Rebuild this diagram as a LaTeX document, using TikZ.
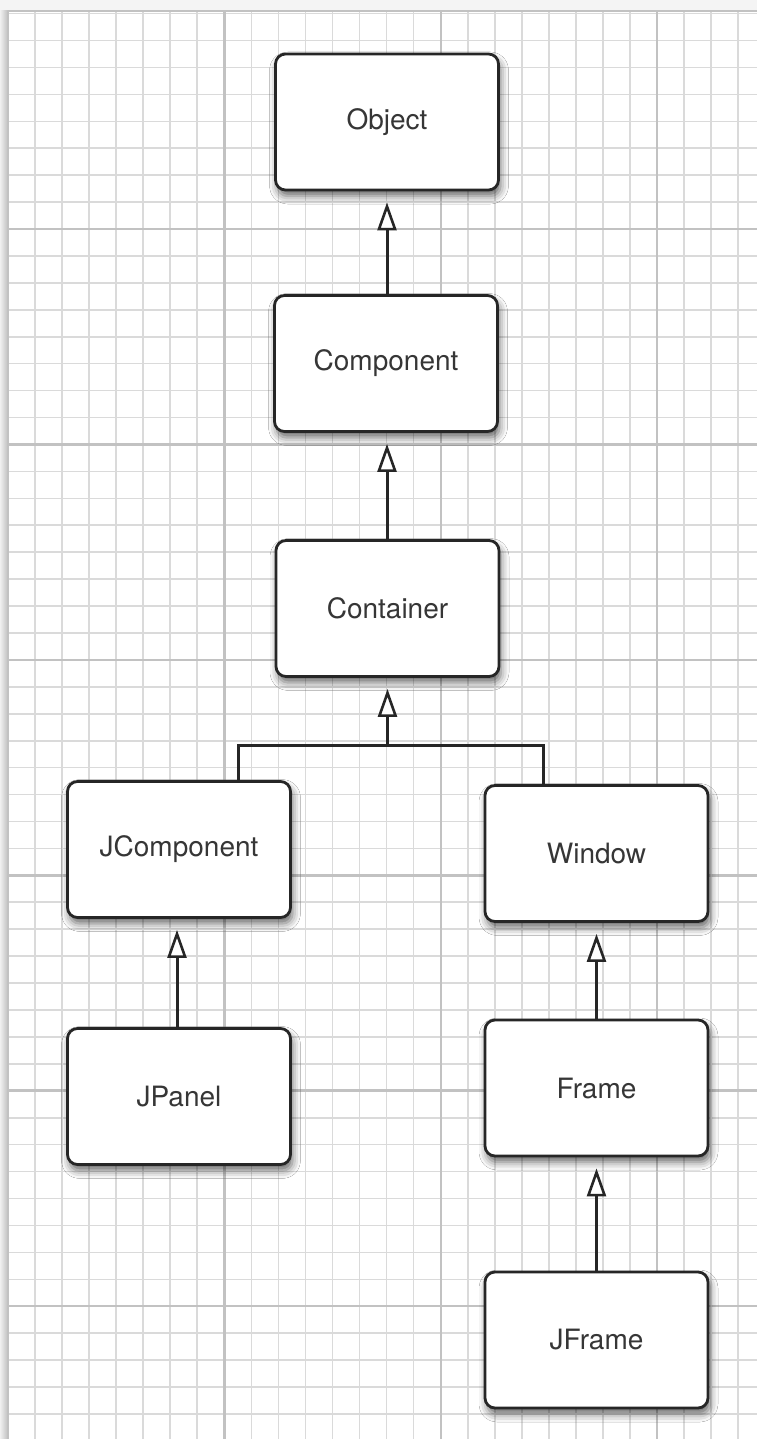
\documentclass[tikz,border=0pt]{standalone}
\usepackage{fontspec}
\newfontfamily\hv{TeX Gyre Heros}
\usetikzlibrary{arrows.meta,shadows.blur}
\definecolor{ink}{HTML}{262626}
\definecolor{txt}{HTML}{363636}
\definecolor{gridminor}{HTML}{DADADA}
\definecolor{gridmajor}{HTML}{C2C2C2}
\tikzset{
  cls/.style={draw=ink, line width=2.8pt, fill=white, rounded corners=10pt,
    minimum width=223pt, minimum height=136pt, inner sep=0pt,
    font=\hv\fontsize{28}{32}\selectfont, text=txt,
    blur shadow={shadow xshift=2pt, shadow yshift=-6pt, shadow blur radius=8pt, shadow opacity=60}},
  link/.style={draw=ink, line width=3pt},
  inh/.style={link, -{Triangle[open, fill=white, length=28pt, width=19pt, line width=2.6pt]}, shorten >=11pt}
}
\begin{document}
\begin{tikzpicture}[x=1pt,y=-1pt]
\useasboundingbox (0,0) rectangle (757,1439);
% page background and edge shadow
\fill[gray!9] (0,0) rectangle (757,1439);
\shade[left color=gray!12, right color=gray!50] (0,11) rectangle (8,1439);
\fill[white] (8,11) rectangle (757,1439);
% grid
\foreach \k in {0,...,27} {
  \pgfmathsetmacro{\gx}{7.9+\k*27.05}
  \draw[gridminor, line width=1.6pt] (\gx,11) -- (\gx,1439);
}
\foreach \k in {0,...,53} {
  \pgfmathsetmacro{\gy}{13.6+\k*26.93}
  \draw[gridminor, line width=1.6pt] (8,\gy) -- (757,\gy);
}
\foreach \gx in {224.3,440.7,657.1} \draw[gridmajor, line width=2.4pt] (\gx,11) -- (\gx,1439);
\foreach \gy in {229,444.4,659.9,875.3,1090.6,1306} \draw[gridmajor, line width=2.4pt] (8,\gy) -- (757,\gy);
\draw[gridmajor, line width=1.6pt] (8,11) -- (757,11);
\draw[gridmajor, line width=1.6pt] (8,11) -- (8,1439);
% classes
\node[cls] (object)  at (387,122)    {Object};
\node[cls] (comp)    at (386,363.5)  {Component};
\node[cls] (cont)    at (387.5,608.5){Container};
\node[cls] (jcomp)   at (179,849.5)  {JComponent};
\node[cls] (jpanel)  at (179,1096.5) {JPanel};
\node[cls] (window)  at (596.5,853.5){Window};
\node[cls] (frame)   at (596.5,1088) {Frame};
\node[cls] (jframe)  at (596.5,1340) {JFrame};
% connectors
\coordinate (jl) at (238,745);
\coordinate (jr) at (543,745);
\coordinate (jm) at (387.5,745);
\draw[inh] (comp.north -| object.south) -- (object.south);
\draw[inh] (cont.north -| object.south) -- (comp.south -| object.south);
\draw[link] (jcomp.north -| jl) -- (jl) -- (jr) -- (window.north -| jr);
\draw[inh] (jm) -- (cont.south);
\draw[inh] ([xshift=-2pt]jpanel.north) -- ([xshift=-2pt]jcomp.south);
\draw[inh] (frame.north) -- (window.south);
\draw[inh] (jframe.north) -- (frame.south);
\end{tikzpicture}
\end{document}
